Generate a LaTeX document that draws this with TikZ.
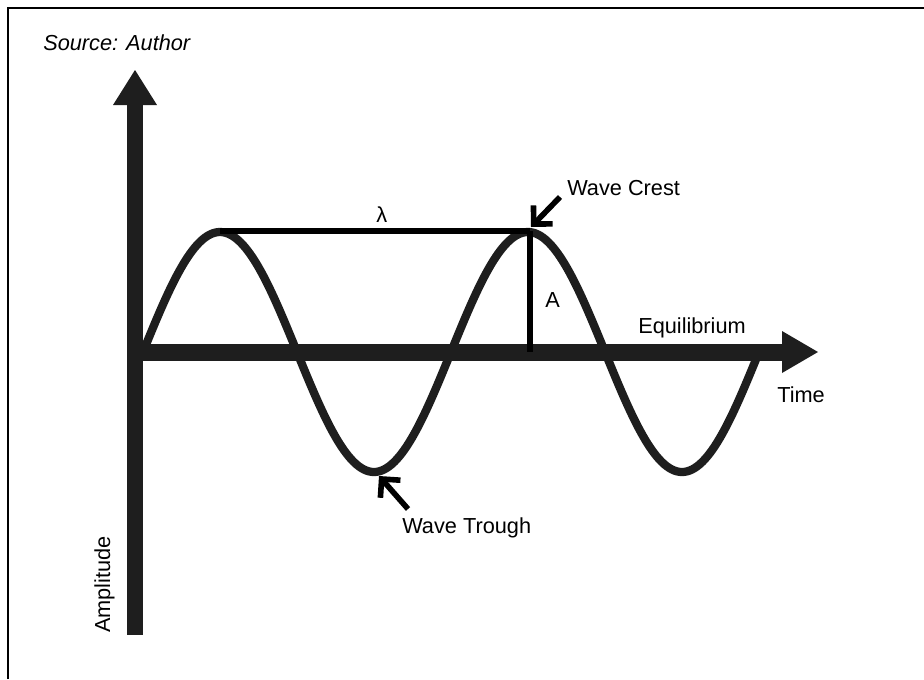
\documentclass[tikz,border=0pt]{standalone}
\usepackage{fontspec}
\setmainfont{Liberation Sans}
\usetikzlibrary{arrows.meta}
\definecolor{ink}{RGB}{30,30,30}
\tikzset{
  lbl/.style={font=\fontsize{16.3}{19}\selectfont, text=black, inner sep=0pt, anchor=base west},
  axisbar/.style={fill=ink, draw=none},
  wavecurve/.style={draw=ink, line width=6.2pt},
  measure/.style={draw=black, line width=4.5pt},
  pointer/.style={draw=black, line width=4.2pt, -{Straight Barb[length=10pt, width=20pt]}},
  framebar/.style={draw=black, line width=2.2pt}
}
\begin{document}
\begin{tikzpicture}[x=0.75pt,y=-0.75pt]
\useasboundingbox (0,0) rectangle (924,679);
% frame (left and top only)
\draw[framebar] (8,679) -- (8,8) -- (924,8);
% vertical axis
\fill[axisbar] (127,635) rectangle (143,104);
\fill[axisbar] (113,105) -- (157,105) -- (135,70) -- cycle;
% horizontal axis
\fill[axisbar] (135,343.5) rectangle (783,360.5);
\fill[axisbar] (782,331) -- (782,373) -- (818,352) -- cycle;
% wave
\draw[wavecurve] plot[domain=0:720, samples=241, smooth] ({143+0.855556*\x}, {352-120*sin(\x)});
% coordinates
\coordinate (crest1) at (220,231);
\coordinate (crest2) at (530,231);
\coordinate (eqA) at (530,352);
\coordinate (crestTip) at (531,227);
\coordinate (crestTail) at (560,197);
\coordinate (troughTip) at (379,476);
\coordinate (troughTail) at (408,509);
% lambda and amplitude lines
\draw[measure] (crest1) -- (crest2);
\draw[measure] (crest2) -- (eqA);
% pointers
\draw[pointer] (crestTail) -- (crestTip);
\draw[pointer] (troughTail) -- (troughTip);
% labels
\node[lbl] (src) at (43,50) {\itshape Source: Author};
\node[lbl] (lam) at (376,222) {λ};
\node[lbl] (amp) at (545,307) {A};
\node[lbl] (crestlbl) at (567,195) {Wave Crest};
\node[lbl] (eq) at (638,333) {Equilibrium};
\node[lbl] (time) at (777,402) {Time};
\node[lbl] (troughlbl) at (402,533) {Wave Trough};
\node[lbl, rotate=90] (ampl) at (110,633) {Amplitude};
\end{tikzpicture}
\end{document}
